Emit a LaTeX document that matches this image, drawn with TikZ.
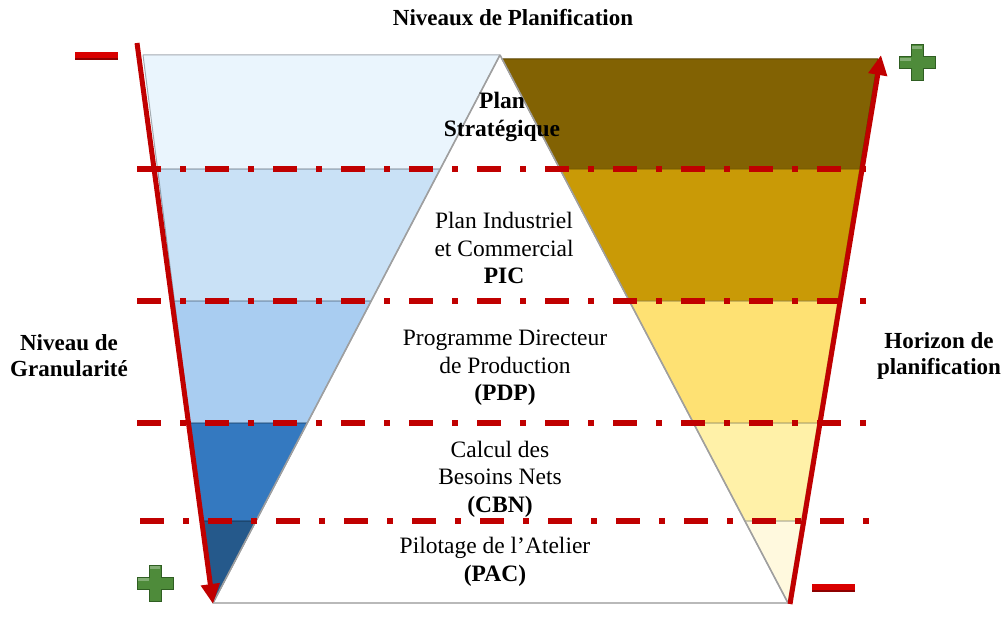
\documentclass[tikz,border=0pt]{standalone}
\usepackage{fontspec}
\setmainfont{Liberation Serif}
\usetikzlibrary{arrows.meta}
\definecolor{lbA}{HTML}{EAF5FD}
\definecolor{lbB}{HTML}{C9E1F6}
\definecolor{lbC}{HTML}{A9CDF1}
\definecolor{lbD}{HTML}{3479C0}
\definecolor{lbE}{HTML}{25598B}
\definecolor{rgA}{HTML}{826203}
\definecolor{rgB}{HTML}{C99A06}
\definecolor{rgC}{HTML}{FEE173}
\definecolor{rgD}{HTML}{FFF1A8}
\definecolor{rgE}{HTML}{FFF9DE}
\definecolor{redline}{HTML}{C00000}
\definecolor{plusgreen}{HTML}{4E8B3A}
\definecolor{plusdark}{HTML}{2F5E22}
\definecolor{minusred}{HTML}{D90000}
\definecolor{minusdark}{HTML}{8E0000}
\tikzset{
  band/.style={line width=1pt, line join=round},
  dashdot/.style={draw=redline, line width=6pt, dash pattern=on 24pt off 19pt on 6pt off 19pt},
  redarrow/.style={draw=redline, line width=5pt, -{Triangle[length=20pt,width=18pt]}},
  triedge/.style={draw=gray!75, line width=1.6pt},
  txt/.style={inner sep=0pt, align=center, font=\fontsize{23.5}{27.5}\selectfont},
  sidetxt/.style={inner sep=0pt, align=center, font=\fontsize{23}{26}\selectfont\bfseries},
  plussign/.pic={\fill[plusgreen, draw=plusdark, line width=1pt]
     (-6,-18) -- (6,-18) -- (6,-6) -- (18,-6) -- (18,6) -- (6,6) -- (6,18)
     -- (-6,18) -- (-6,6) -- (-18,6) -- (-18,-6) -- (-6,-6) -- cycle;
     \fill[plusgreen!70!white] (-5,-17) -- (5,-17) -- (5,-14) -- (-5,-14) -- cycle;
     \fill[plusgreen!70!white] (-17,-5) -- (-6,-5) -- (-6,-2) -- (-17,-2) -- cycle;},
}
\begin{document}
\begin{tikzpicture}[x=1pt,y=-1pt]
\useasboundingbox (0,0) rectangle (1006,623);
% left funnel bands
\filldraw[band, fill=lbA, draw=lbA!70!black] (143,55) -- (500,55) -- (440.3,169) -- (157.6,169) -- cycle;
\filldraw[band, fill=lbB, draw=lbB!70!black] (157.6,169) -- (440.3,169) -- (371.2,301) -- (174.4,301) -- cycle;
\filldraw[band, fill=lbC, draw=lbC!70!black] (174.4,301) -- (371.2,301) -- (307.3,423) -- (190.0,423) -- cycle;
\filldraw[band, fill=lbD, draw=lbD!70!black] (190.0,423) -- (307.3,423) -- (256.0,521) -- (202.5,521) -- cycle;
\filldraw[band, fill=lbE, draw=lbE!70!black] (202.5,521) -- (256.0,521) -- (213,603) -- cycle;
% right funnel bands
\filldraw[band, fill=rgA, draw=rgA!70!black] (502.1,59) -- (878,59) -- (859.8,169) -- (559.9,169) -- cycle;
\filldraw[band, fill=rgB, draw=rgB!70!black] (559.9,169) -- (859.8,169) -- (838.0,301) -- (629.3,301) -- cycle;
\filldraw[band, fill=rgC, draw=rgC!70!black] (629.3,301) -- (838.0,301) -- (817.8,423) -- (693.4,423) -- cycle;
\filldraw[band, fill=rgD, draw=rgD!70!black] (693.4,423) -- (817.8,423) -- (801.6,521) -- (744.9,521) -- cycle;
\filldraw[band, fill=rgE, draw=rgE!70!black] (744.9,521) -- (801.6,521) -- (788,603) -- cycle;
% white triangle outline
\coordinate (apex) at (500,55);
\coordinate (bl) at (213,603);
\coordinate (br) at (788,603);
\draw[triedge] (apex) -- (bl);
\draw[triedge] (apex) -- (br);
\draw[draw=gray!55, line width=2pt] (bl) -- (br);
% dash-dot level lines
\coordinate (d1a) at (137,169); \coordinate (d1b) at (870,169);
\coordinate (d2a) at (137,301); \coordinate (d2b) at (870,301);
\coordinate (d3a) at (137,423); \coordinate (d3b) at (870,423);
\coordinate (d4a) at (140,521); \coordinate (d4b) at (876,521);
\draw[dashdot] (d1a) -- (d1b);
\draw[dashdot] (d2a) -- (d2b);
\draw[dashdot] (d3a) -- (d3b);
\draw[dashdot] (d4a) -- (d4b);
% arrows
\coordinate (la1) at (137,43); \coordinate (la2) at (213,604);
\coordinate (ra1) at (790,604); \coordinate (ra2) at (881,55);
\draw[redarrow] (la1) -- (la2);
\draw[redarrow] (ra1) -- (ra2);
% minus and plus signs
\fill[minusred] (75,52) rectangle (118,60);
\fill[minusdark] (75,58) rectangle (118,60);
\fill[minusred] (812,584) rectangle (855,592);
\fill[minusdark] (812,590) rectangle (855,592);
\pic at (917,63) {plussign};
\pic at (155,583) {plussign};
% texts
\node[sidetxt] (title) at (513,18) {Niveaux de Planification};
\node[sidetxt] (gran) at (69,356) {Niveau de\\Granularité};
\node[sidetxt] (hor) at (939,356) {Horizon de\\planification};
\node[txt] (ps) at (502,117) {\bfseries Plan\\\bfseries Stratégique};
\node[txt] (pic) at (504,248) {Plan Industriel\\et Commercial\\\bfseries PIC};
\node[txt] (pdp) at (505,368) {Programme Directeur\\de Production\\\bfseries (PDP)};
\node[txt] (cbn) at (500,479) {Calcul des\\Besoins Nets\\\bfseries (CBN)};
\node[txt] (pac) at (495,562) {Pilotage de l’Atelier\\\bfseries (PAC)};
\end{tikzpicture}
\end{document}
